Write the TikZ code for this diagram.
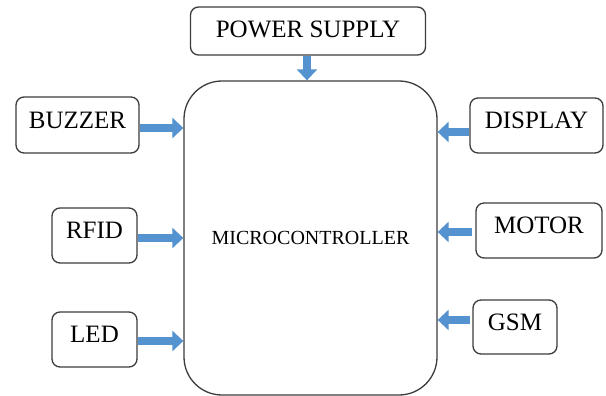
\documentclass[tikz,border=0pt]{standalone}
\usepackage{fontspec}
\setmainfont{Liberation Serif}
\usetikzlibrary{arrows.meta}
\definecolor{arrowblue}{RGB}{84,146,208}
\definecolor{edgegray}{RGB}{60,60,60}

\begin{document}
\begin{tikzpicture}[x=1pt,y=-1pt,
  block/.style={draw=edgegray,line width=1.3pt,rounded corners=8pt,
    font=\fontsize{25}{30}\selectfont,text depth=10pt,inner sep=0pt},
  flow/.style={draw=arrowblue,line width=7.5pt,-{Triangle[width=20pt,length=11pt]}}]

  \useasboundingbox (0,0) rectangle (606,396);

  \node[block,rounded corners=38pt,minimum width=253pt,minimum height=314pt,
    font=\fontsize{20}{24}\selectfont,text depth=0pt] (mcu) at (310.5,238) {MICROCONTROLLER};

  \node[block,minimum width=235pt,minimum height=48pt,text depth=4pt] (power) at (308,31) {POWER SUPPLY};
  \node[block,minimum width=123pt,minimum height=56pt] (buzzer) at (77.5,125) {BUZZER};
  \node[block,minimum width=85pt,minimum height=55pt] (rfid) at (94.5,235.5) {RFID};
  \node[block,minimum width=85pt,minimum height=55pt] (led) at (94.5,339.5) {LED};
  \node[block,minimum width=133pt,minimum height=55pt] (display) at (536.5,125.5) {DISPLAY};
  \node[block,minimum width=126pt,minimum height=55pt] (motor) at (539,230.5) {MOTOR};
  \node[block,minimum width=84pt,minimum height=54pt] (gsm) at (515,327) {GSM};

  % inputs into the controller
  \draw[flow] ([xshift=-1pt]power.south) -- ([xshift=-1pt]power.south |- mcu.north);
  \draw[flow] ([yshift=-3pt]buzzer.east) -- ([yshift=-3pt]buzzer.east -| mcu.west);
  \draw[flow] ([yshift=-2.5pt]rfid.east) -- ([yshift=-2.5pt]rfid.east -| mcu.west);
  \draw[flow] ([yshift=-1.5pt]led.east) -- ([yshift=-1.5pt]led.east -| mcu.west);
  \draw[flow] ([yshift=-6.5pt]display.west) -- ([yshift=-6.5pt]display.west -| mcu.east);
  \draw[flow] ([xshift=-3pt,yshift=-1.5pt]motor.west) -- ([yshift=-1.5pt]motor.west -| mcu.east);
  \draw[flow] ([xshift=-2pt,yshift=7pt]gsm.west) -- ([yshift=7pt]gsm.west -| mcu.east);
\end{tikzpicture}
\end{document}
